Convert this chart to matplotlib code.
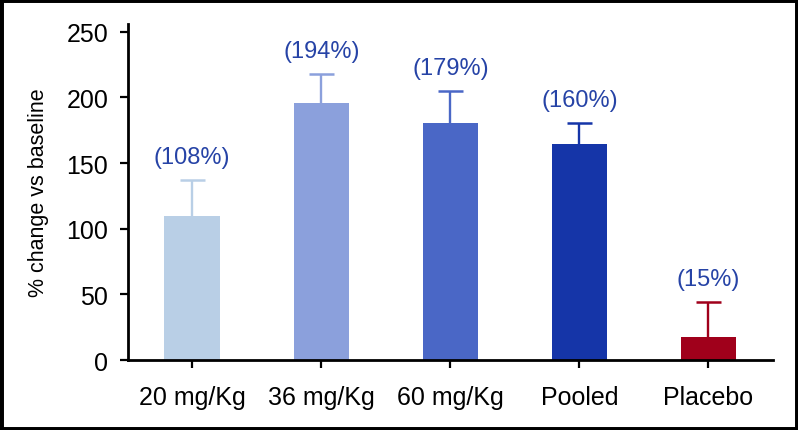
# plot.py
# Barres : variation en % par rapport à la ligne de base, avec barres d'erreur

import matplotlib.pyplot as plt
from matplotlib.patches import Rectangle

groupes = ["20 mg/Kg", "36 mg/Kg", "60 mg/Kg", "Pooled", "Placebo"]
valeurs = [109.6, 195.8, 180.5, 164.2, 17.3]
erreur_haut = [137.0, 218.2, 205.0, 180.3, 44.5]
etiquettes = ["(108%)", "(194%)", "(179%)", "(160%)", "(15%)"]
couleurs = ["#b9cfe6", "#8ba0dc", "#4a67c6", "#1535a8", "#a0001b"]

plt.rcParams["font.family"] = ["Liberation Sans", "DejaVu Sans"]

fig = plt.figure(figsize=(7.98, 4.31), dpi=100)
ax = fig.add_axes([0.160, 0.1624, 0.8087, 0.7796])

x = list(range(len(groupes)))
ax.bar(x, valeurs, width=0.43, color=couleurs, zorder=2)

for i in x:
    # barre d'erreur vers le haut seulement
    ax.vlines(i, valeurs[i], erreur_haut[i], color=couleurs[i],
              linewidth=1.7, zorder=1)
    ax.plot([i], [erreur_haut[i]], marker="_", markersize=18,
            markeredgewidth=1.8, color=couleurs[i], zorder=1)
    ax.annotate(etiquettes[i], (i, erreur_haut[i]), xytext=(0, 16.5),
                textcoords="offset points", ha="center", va="center",
                fontsize=17, color="#2643a6")

ax.set_xlim(-0.5, 4.5)
ax.set_ylim(0, 256)
ax.set_yticks([0, 50, 100, 150, 200, 250])
ax.set_xticks(x)
ax.set_xticklabels(groupes)

for cote in ["top", "right"]:
    ax.spines[cote].set_visible(False)
for cote in ["left", "bottom"]:
    ax.spines[cote].set_linewidth(2.0)

ax.tick_params(axis="both", direction="out", length=6, width=1.6,
               labelsize=18)
ax.tick_params(axis="x", pad=12)
ax.tick_params(axis="y", pad=8)

ax.set_ylabel("% change vs baseline", fontsize=15.5)
ax.yaxis.set_label_coords(-0.122, 0.5)

# cadre noir autour de la figure
fig.patches.append(Rectangle((0, 0), 1, 1, transform=fig.transFigure,
                             fill=False, edgecolor="black", linewidth=5,
                             zorder=10))

fig.savefig("out.png", dpi=100)
